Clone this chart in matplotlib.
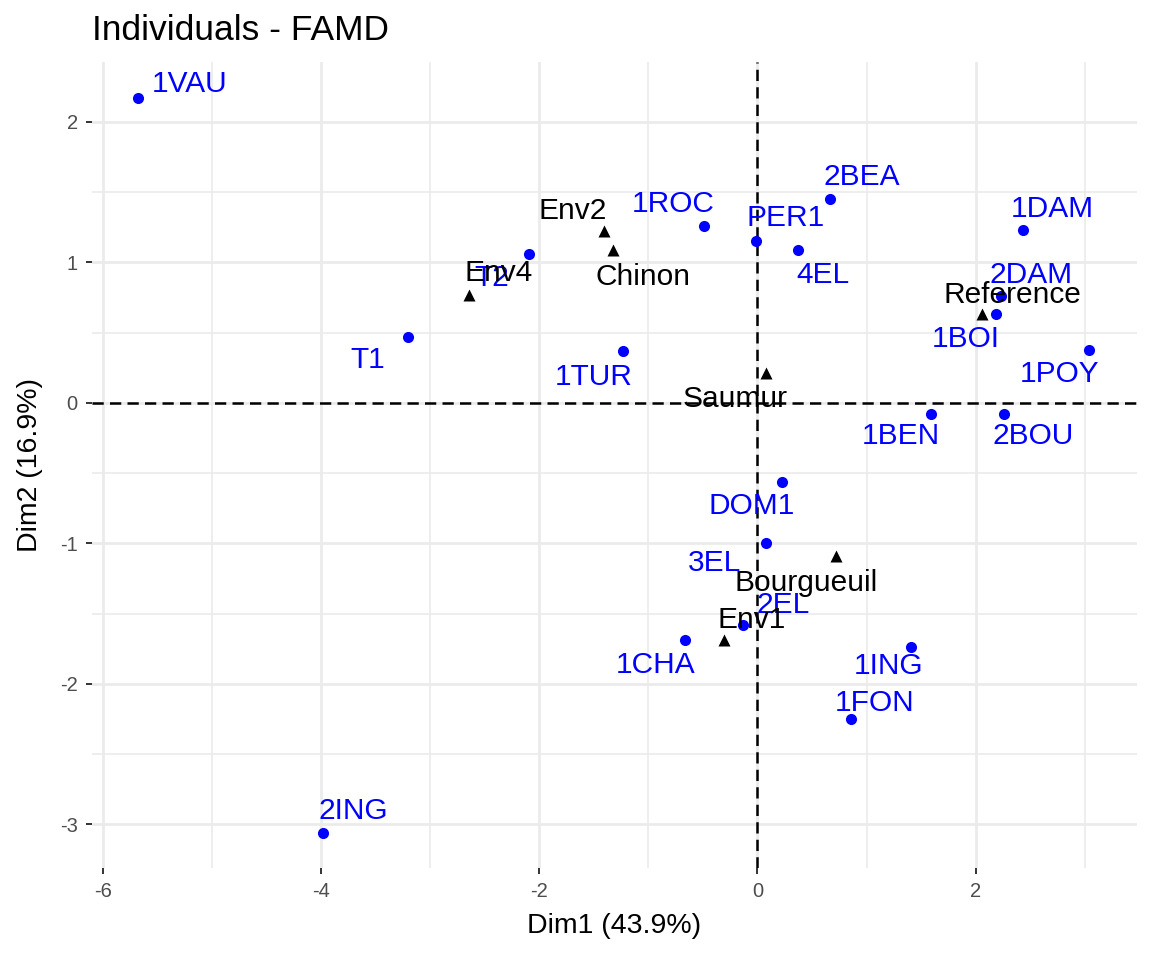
import numpy as np
import matplotlib.pyplot as plt

plt.rcParams['font.family'] = ['Liberation Sans', 'DejaVu Sans']

# %% Data: individuals (active, blue)
ind_names = ['1VAU', '2ING', 'T1', 'T2', '1TUR', '1ROC', 'PER1', '4EL', '2BEA',
             '1DAM', '2DAM', '1BOI', '1POY', '1BEN', '2BOU', 'DOM1', '3EL',
             '2EL', '1CHA', '1ING', '1FON']
ind_dim1 = [-5.68, -3.98, -3.20, -2.09, -1.23, -0.49, -0.01, 0.37, 0.67,
            2.43, 2.23, 2.19, 3.04, 1.59, 2.26, 0.23, 0.08,
            -0.13, -0.66, 1.41, 0.86]
ind_dim2 = [2.17, -3.06, 0.47, 1.06, 0.37, 1.26, 1.15, 1.09, 1.45,
            1.23, 0.76, 0.63, 0.375, -0.08, -0.08, -0.56, -1.00,
            -1.58, -1.69, -1.74, -2.25]

# supplementary categories (black triangles)
sup_names = ['Env2', 'Chinon', 'Env4', 'Reference', 'Saumur', 'Bourgueuil', 'Env1']
sup_dim1 = [-1.41, -1.32, -2.64, 2.06, 0.08, 0.72, -0.31]
sup_dim2 = [1.22, 1.09, 0.77, 0.63, 0.21, -1.09, -1.69]

# label offsets in pixels (dx right, dy down), like a repel layout
label_px = {
    '1VAU': (52, -14), '2ING': (30, -22), 'T1': (-40, 23), 'T2': (-38, 24),
    '1TUR': (-29, 26), '1ROC': (-31, -22), 'PER1': (29, -23), '4EL': (25, 25),
    '2BEA': (31, -22), '1DAM': (30, -21), '2DAM': (30, -21), '1BOI': (-31, 25),
    '1POY': (-30, 24), '1BEN': (-30, 22), '2BOU': (29, 22), 'DOM1': (-31, 24),
    '3EL': (-52, 20), '2EL': (40, -20), '1CHA': (-30, 25), '1ING': (-23, 19),
    '1FON': (23, -16),
    'Env2': (-31, -20), 'Chinon': (30, 27), 'Env4': (29, -22),
    'Reference': (30, -19), 'Saumur': (-31, 26), 'Bourgueuil': (-30, 27),
    'Env1': (28, -20),
}

# %% Figure
dpi = 100
fig = plt.figure(figsize=(11.52, 9.6), dpi=dpi)
ax = fig.add_axes([91.7 / 1152, 1 - 868 / 960, (1136.7 - 91.7) / 1152, (868 - 62) / 960])

px2pt = 72 / dpi

# grid: major at even x / integer y, minor in between
for v in [-6, -4, -2, 0, 2]:
    ax.axvline(v, color='#ebebeb', lw=2.0, zorder=0)
for v in [-5, -3, -1, 1, 3]:
    ax.axvline(v, color='#ebebeb', lw=1.2, zorder=0)
for v in [-3, -2, -1, 0, 1, 2]:
    ax.axhline(v, color='#ebebeb', lw=2.0, zorder=0)
for v in [-2.5, -1.5, -0.5, 0.5, 1.5]:
    ax.axhline(v, color='#ebebeb', lw=1.2, zorder=0)

ax.axhline(0, color='black', lw=1.8, ls=(0, (4.5, 2.5)), zorder=1)
ax.axvline(0, color='black', lw=1.8, ls=(0, (4.5, 2.5)), zorder=1)

ax.plot(ind_dim1, ind_dim2, 'o', color='blue', ms=8, mec='none', zorder=3)
ax.plot(sup_dim1, sup_dim2, '^', color='black', ms=8.5, mec='none', zorder=3)

for n, x, y in zip(ind_names, ind_dim1, ind_dim2):
    dx, dy = label_px[n]
    ax.annotate(n, (x, y), xytext=(dx * px2pt, -dy * px2pt), textcoords='offset points',
                ha='center', va='center', color='blue', fontsize=21.5, zorder=4)
for n, x, y in zip(sup_names, sup_dim1, sup_dim2):
    dx, dy = label_px[n]
    ax.annotate(n, (x, y), xytext=(dx * px2pt, -dy * px2pt), textcoords='offset points',
                ha='center', va='center', color='black', fontsize=21.5, zorder=4)

ax.set_xlim(-6.10, 3.476)
ax.set_ylim(-3.31, 2.425)
ax.set_xticks([-6, -4, -2, 0, 2])
ax.set_xticklabels(['-6', '-4', '-2', '0', '2'])
ax.set_yticks([-3, -2, -1, 0, 1, 2])
ax.set_yticklabels(['-3', '-2', '-1', '0', '1', '2'])
ax.tick_params(length=4, width=1.4, color='#333333', labelcolor='#4d4d4d',
               labelsize=14.5, pad=6)
for s in ax.spines.values():
    s.set_visible(False)

ax.set_xlabel('Dim1 (43.9%)', fontsize=20.5, labelpad=9)
ax.set_ylabel('Dim2 (16.9%)', fontsize=20.5, labelpad=12)
ax.set_title('Individuals - FAMD', loc='left', fontsize=25.5, pad=16)

fig.savefig('out.png', dpi=dpi)
